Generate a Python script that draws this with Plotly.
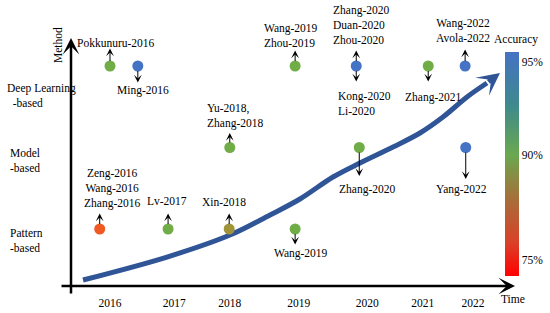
import numpy as np
import plotly.graph_objects as go

# ---------------- data ----------------
years = ["2016", "2017", "2018", "2019", "2020", "2021", "2022"]
year_pos = [2016.0, 2017.06, 2017.98, 2019.12, 2020.25, 2021.17, 2022.0]

method_levels = [3, 2, 1]
method_names = ["Deep Learning<br>\u00a0\u00a0-based", "Model<br>-based", "Pattern<br>-based"]

# one dot per study group
dot_x = [2016.00, 2016.46, 2015.83, 2016.96, 2017.97, 2017.98, 2019.06,
         2019.06, 2020.07, 2020.12, 2021.26, 2021.87, 2021.88]
dot_level = [3, 3, 1, 1, 1, 2, 3, 1, 3, 2, 3, 3, 2]
dot_acc = [90, 95, 77, 90, 85, 90, 90, 90, 95, 90, 90, 95, 95]

# labels attached to dots (dot index, text, direction)
label_dot = [0, 1, 2, 3, 4, 5, 6, 7, 8, 8, 9, 10, 11, 12]
label_text = [
    "Pokkunuru-2016", "Ming-2016", "Zeng-2016<br>Wang-2016<br>Zhang-2016",
    "Lv-2017", "Xin-2018", "Yu-2018,<br>Zhang-2018", "Wang-2019<br>Zhou-2019",
    "Wang-2019", "Zhang-2020<br>Duan-2020<br>Zhou-2020", "Kong-2020<br>Li-2020",
    "Zhang-2020", "Zhang-2021", "Wang-2022<br>Avola-2022", "Yang-2022",
]
label_dir = ["up", "down", "up", "up", "up", "up", "up",
             "down", "up", "down", "down", "down", "up", "down"]

# trend arrow (time vs. method evolution)
trend_x = [2015.554, 2016.942, 2017.983, 2018.645, 2019.140, 2019.686, 2020.132,
           2020.678, 2021.124, 2021.504, 2021.901, 2022.231, 2022.446]
trend_y = [0.374, 0.656, 0.926, 1.172, 1.368, 1.638, 1.810,
           2.006, 2.178, 2.374, 2.620, 2.791, 2.914]

acc_ticks = ["75%", "90%", "95%"]

# ---------------- style ----------------
FONT = "'Liberation Serif', 'Times New Roman', 'DejaVu Serif', serif"
FS = 11.5
ACC_COLOR = {95: "#4472c4", 90: "#70ad47", 85: "#a09438", 77: "#f05a22"}
# label offsets (xshift, yshift, align) and arrow length in px
label_off = [(6, 23, "center"), (5, -24, "center"), (12, 41, "center"),
             (-1, 28, "center"), (-5, 27, "center"), (5, 32, "left"),
             (-4, 31, "left"), (6, -24, "center"), (5, 41, "left"),
             (8.5, -37.5, "left"), (8, -41.5, "center"), (5, -31, "center"),
             (-2, 36, "center"), (-4, -41.5, "center")]
arrow_len = [19, 18, 17, 17, 17, 16, 17, 17, 17, 17, 30, 17, 18, 33]

x0, x1 = 2016 - 110 / 60.5, 2016 + 440 / 60.5
y0, y1 = 1 - 57 / 81.5, 3 + 66 / 81.5
W, H = 550, 313
PH = 286

fig = go.Figure()

# trend line
fig.add_trace(go.Scatter(
    x=trend_x[:-1], y=trend_y[:-1], mode="lines",
    line=dict(color="#2f5597", width=5, shape="spline"),
    hoverinfo="skip"))

# dots
fig.add_trace(go.Scatter(
    x=dot_x, y=dot_level, mode="markers",
    marker=dict(size=11, color=[ACC_COLOR[a] for a in dot_acc], line=dict(width=0)),
    hoverinfo="skip"))

# colorbar (legend of accuracy)
cscale = [[0, "#ff0000"], [0.15, "#d9412a"], [0.35, "#a5703a"],
          [0.54, "#6aa84f"], [0.76, "#3f8a8c"], [1, "#4472c4"]]
fig.add_trace(go.Scatter(
    x=[2016, 2016], y=[-5, -5], mode="markers",
    marker=dict(size=1, color=[0, 1], cmin=0, cmax=1, colorscale=cscale,
                showscale=True,
                colorbar=dict(x=505 / W, xanchor="left", xpad=0, ypad=0,
                              y=1 - 164 / PH, yanchor="middle",
                              len=224, lenmode="pixels", thickness=14,
                              outlinewidth=0, ticks="",
                              tickvals=[0.07, 0.54, 0.955], ticktext=acc_ticks,
                              tickfont=dict(family=FONT, size=FS, color="black"))),
    hoverinfo="skip"))

ann = []
# trend arrowhead
ann.append(dict(x=trend_x[-1], y=trend_y[-1], ax=trend_x[-2], ay=trend_y[-2],
                xref="x", yref="y", axref="x", ayref="y", text="",
                showarrow=True, arrowhead=3, arrowsize=0.75, arrowwidth=5,
                arrowcolor="#2f5597"))

# labels and small arrows
for i, (d, t, dr) in enumerate(zip(label_dot, label_text, label_dir)):
    xs, ys, al = label_off[i]
    ann.append(dict(x=dot_x[d], y=dot_level[d], xref="x", yref="y", text=t,
                    showarrow=False, xshift=xs, yshift=ys, align=al,
                    xanchor="center", yanchor="middle",
                    font=dict(family=FONT, size=FS, color="black")))
    L = arrow_len[i]
    ann.append(dict(x=dot_x[d], y=dot_level[d], xref="x", yref="y", text="",
                    showarrow=True, ax=0, ay=(-L if dr == "up" else L),
                    arrowside="start", startarrowhead=3, startarrowsize=1.3,
                    arrowwidth=1, arrowcolor="black", standoff=5))

# method category labels
loff = {3: (5, -29), 2: (8, -13), 1: (8, -11)}
for lv, nm in zip(method_levels, method_names):
    ann.append(dict(x=loff[lv][0] / W, y=lv, xref="paper", yref="y", text=nm,
                    showarrow=False, xanchor="left", yanchor="middle", align="left",
                    yshift=loff[lv][1],
                    font=dict(family=FONT, size=FS, color="black")))

# axes with arrows
ann.append(dict(x=515 / W, y=0, xref="paper", yref="paper", ax=-455, ay=0,
                text="", showarrow=True, arrowhead=3, arrowsize=1.1,
                arrowwidth=2.5, arrowcolor="black"))
ann.append(dict(x=71 / W, y=1 - 38 / PH, xref="paper", yref="paper", ax=0, ay=257,
                text="", showarrow=True, arrowhead=3, arrowsize=1.1,
                arrowwidth=2.5, arrowcolor="black"))

# titles
ann.append(dict(x=58 / W, y=1 - 45 / PH, xref="paper", yref="paper", text="Method",
                showarrow=False, textangle=-90, xanchor="center", yanchor="middle",
                font=dict(family=FONT, size=FS, color="black")))
ann.append(dict(x=516 / W, y=1 - 39 / PH, xref="paper", yref="paper", text="Accuracy",
                showarrow=False, xanchor="center", yanchor="middle",
                font=dict(family=FONT, size=FS, color="black")))
ann.append(dict(x=513 / W, y=1 - 299 / PH, xref="paper", yref="paper", text="Time",
                showarrow=False, xanchor="center", yanchor="middle",
                font=dict(family=FONT, size=FS, color="black")))

fig.update_layout(
    width=W, height=H, margin=dict(l=0, r=0, t=0, b=H - PH, autoexpand=False),
    plot_bgcolor="white", paper_bgcolor="white", showlegend=False,
    annotations=ann,
    xaxis=dict(range=[x0, x1], showgrid=False, zeroline=False, showline=False,
               tickvals=year_pos, ticktext=years, ticks="", automargin=False,
               ticklabelstandoff=8, fixedrange=True,
               tickfont=dict(family=FONT, size=FS, color="black")),
    yaxis=dict(range=[y0, y1], visible=False, fixedrange=True),
)

fig.write_html("out.html", config={"displayModeBar": False},
               post_script="document.body.style.margin='0';document.body.style.overflow='hidden';")
